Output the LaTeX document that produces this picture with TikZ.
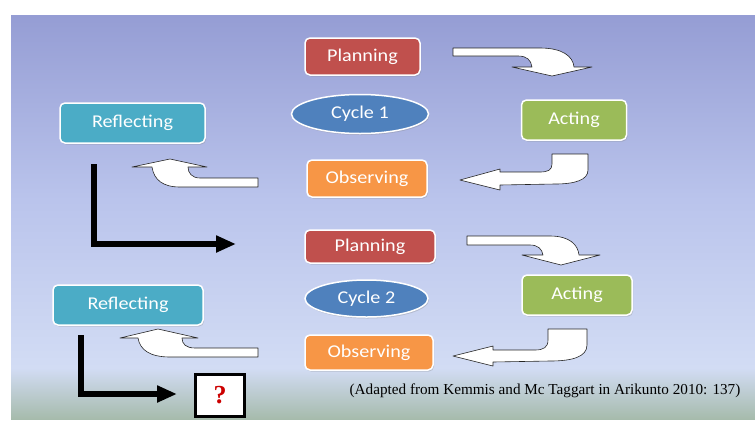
\documentclass[tikz,border=0pt]{standalone}
\usepackage{fontspec}
\setmainfont{Carlito}[FakeStretch=1.12]
\newfontfamily\capfont{Liberation Serif}
\usepackage{tikz}
\usetikzlibrary{arrows.meta}
\usetikzlibrary{shapes.geometric}
\usetikzlibrary{shadows}

\definecolor{slidetop}{RGB}{149,157,212}
\definecolor{slidemid}{RGB}{186,196,236}
\definecolor{slidelow}{RGB}{210,220,244}
\definecolor{slidefoot}{RGB}{166,187,172}
\definecolor{planred}{RGB}{192,80,77}
\definecolor{actgreen}{RGB}{155,187,89}
\definecolor{refteal}{RGB}{75,172,198}
\definecolor{obsorange}{RGB}{247,150,70}
\definecolor{cycblue}{RGB}{79,129,189}

\begin{document}
\begin{tikzpicture}[x=1pt,y=-1pt,>/.tip={Triangle[length=20pt,width=16pt]},
	stage/.style={draw=white,line width=1.5pt,rounded corners=5pt,text=white,
		font=\fontsize{18}{20}\selectfont,
		drop shadow={opacity=.3,shadow xshift=1pt,shadow yshift=-1.5pt}},
	cyc/.style={stage,shape=ellipse,inner sep=0pt,fill=cycblue},
	blockarrow/.style={fill=white,draw=black!85,line width=.6pt,line join=round},
	lpath/.style={->,line width=5.5pt,black}]
	% background of the slide
	\fill[white] (0,0) rectangle (755,421);
	\shade[top color=slidetop,bottom color=slidemid] (11,15) rectangle (755,200);
	\shade[top color=slidemid,bottom color=slidelow] (11,200) rectangle (755,368);
	\shade[top color=slidelow,bottom color=slidefoot] (11,368) rectangle (755,419);
	
	% cycle 1
	\draw (362.5,56.5) node(plan1) [stage,fill=planred,minimum width=115pt,minimum height=37pt] {Planning};
	\draw (360,114) node(cyc1) [cyc,minimum width=137pt,minimum height=39pt] {Cycle 1};
	\draw (574,120) node(act1) [stage,fill=actgreen,minimum width=105pt,minimum height=40pt] {Acting};
	\draw (367,178.5) node(obs1) [stage,fill=obsorange,minimum width=120pt,minimum height=37pt] {Observing};
	\draw (132.5,123) node(refl1) [stage,fill=refteal,minimum width=145pt,minimum height=40pt] {Reflecting};
	
	% cycle 2
	\draw (370,246.5) node(plan2) [stage,fill=planred,minimum width=130pt,minimum height=33pt] {Planning};
	\draw (366.5,298.5) node(cyc2) [cyc,minimum width=123pt,minimum height=37pt] {Cycle 2};
	\draw (577,295) node(act2) [stage,fill=actgreen,minimum width=110pt,minimum height=40pt] {Acting};
	\draw (369,352.5) node(obs2) [stage,fill=obsorange,minimum width=128pt,minimum height=35pt] {Observing};
	\draw (128,305) node(refl2) [stage,fill=refteal,minimum width=150pt,minimum height=40pt] {Reflecting};
	
	\draw (220,395.5) node(quest) [draw=black,line width=3pt,fill=white,minimum width=49pt,minimum height=42pt,
		font=\capfont\bfseries\fontsize{26}{26}\selectfont,text=red!80!black] {?};
	\draw (545,391) node(source) [font=\capfont\fontsize{15.2}{16}\selectfont] {(Adapted from Kemmis and Mc Taggart in Arikunto 2010: 137)};
	
	% white block arrows
	\draw[blockarrow] (453,48) -- (540,48) .. controls (562,48) and (573,56) .. (574,67) -- (592,67) -- (552,76)
		-- (512,67) -- (532,67) .. controls (531,60) and (527,56) .. (518,56) -- (453,56) -- cycle;
	\draw[blockarrow] (552,154) -- (588,154) -- (588,170) .. controls (588,180) and (575,184) .. (555,184) -- (500,185)
		-- (500,190) -- (460,180) -- (500,169) -- (500,172) -- (540,172) .. controls (548,172) and (552,170) .. (552,164) -- cycle;
	\draw[blockarrow] (258,178) -- (200,178) .. controls (192,178) and (188,173) .. (188,167) -- (207,167) -- (170,159)
		-- (132,167) -- (152,167) .. controls (154,180) and (163,187) .. (180,187) -- (258,187) -- cycle;
	\draw[blockarrow] (467,236) -- (550,236) .. controls (570,236) and (578,245) .. (579,255) -- (600,255) -- (561,265)
		-- (522,255) -- (543,255) .. controls (542,249) and (538,245) .. (530,245) -- (467,245) -- cycle;
	\draw[blockarrow] (548,329) -- (587,329) -- (587,345) .. controls (587,357) and (572,361) .. (550,361) -- (493,362)
		-- (493,366) -- (453,356) -- (493,346) -- (493,350) -- (535,350) .. controls (544,350) and (548,347) .. (548,340) -- cycle;
	\draw[blockarrow] (258,348) -- (195,348) .. controls (186,348) and (182,344) .. (182,338) -- (198,338) -- (158,329)
		-- (120,338) -- (138,338) .. controls (140,350) and (150,357) .. (170,357) -- (258,357) -- cycle;
	
	% black L arrows
	\coordinate (foot1) at (94,164);
	\coordinate (into2) at (236,244);
	\coordinate (foot2) at (81,335);
	\coordinate (intoq) at (177,394);
	\draw[lpath] (foot1) |- (into2);
	\draw[lpath] (foot2) |- (intoq);
\end{tikzpicture}
\end{document}
